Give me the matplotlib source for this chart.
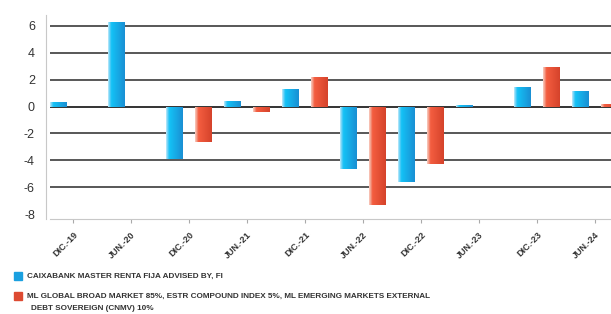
import numpy as np
import matplotlib
matplotlib.use('Agg')
import matplotlib.pyplot as plt
from matplotlib.colors import LinearSegmentedColormap
from matplotlib.patches import Rectangle

# datos
periodos = ['DIC.-19', 'JUN.-20', 'DIC.-20', 'JUN.-21', 'DIC.-21',
            'JUN.-22', 'DIC.-22', 'JUN.-23', 'DIC.-23', 'JUN.-24']
fondo = [0.35, 6.25, -3.9, 0.4, 1.27, -4.65, -5.6, 0.12, 1.44, 1.17]
indice = [0.0, 0.0, -2.63, -0.4, 2.2, -7.3, -4.28, -0.05, 2.96, 0.17]
nombre_fondo = 'CAIXABANK MASTER RENTA FIJA ADVISED BY, FI'
nombre_indice = ['ML GLOBAL BROAD MARKET 85%, ESTR COMPOUND INDEX 5%, ML EMERGING MARKETS EXTERNAL',
                 'DEBT SOVEREIGN (CNMV) 10%']

fuente = ['Liberation Sans Narrow', 'Liberation Sans', 'DejaVu Sans']

cmap_azul = LinearSegmentedColormap.from_list('azul', [(0, '#bfeafb'), (0.1, '#62cff6'), (0.2, '#14c2f6'), (1, '#1a8fd3')])
cmap_rojo = LinearSegmentedColormap.from_list('rojo', [(0, '#f9cbc0'), (0.1, '#f39a86'), (0.2, '#f45d40'), (1, '#d5432b')])

fig = plt.figure(figsize=(6.11, 3.14), dpi=100)
ax = fig.add_axes([46 / 611, 1 - 219 / 314, 1 - 46 / 611, (219 - 15) / 314])

x = np.arange(len(periodos))
ancho = 0.29
grad = np.linspace(0, 1, 64).reshape(1, -1)

def barras_degradado(pos, valores, cmap):
    bars = ax.bar(pos, valores, ancho, color='none', zorder=3)
    for b in bars:
        if b.get_height() == 0:
            continue
        x0, y0 = b.get_x(), b.get_y()
        x1, y1 = x0 + b.get_width(), y0 + b.get_height()
        im = ax.imshow(grad, cmap=cmap, aspect='auto', extent=(x0, x1, min(y0, y1), max(y0, y1)),
                       zorder=3, interpolation='bilinear')
        im.set_clip_path(b)

barras_degradado(x - 0.245, fondo, cmap_azul)
barras_degradado(x + 0.245, indice, cmap_rojo)

x_ini = -0.466 + 4 / 58
for g in [-6, -4, -2, 2, 4, 6]:
    ax.plot([x_ini, 9.3], [g, g], color='#4a4a4a', lw=1.3, zorder=1, solid_capstyle='butt')
ax.plot([x_ini, 9.3], [0, 0], color='#111111', lw=1.2, zorder=2, solid_capstyle='butt')

ax.set_xlim(-0.466, 9.276)
ax.set_ylim(-8.35, 6.8)
ax.set_yticks(range(-8, 7, 2))
ax.set_yticklabels([str(v) for v in range(-8, 7, 2)], fontsize=9, color='#333333', family=['Liberation Sans', 'DejaVu Sans'])
ax.tick_params(axis='y', length=0, pad=8)
ax.set_xticks(x)
ax.set_xticklabels(periodos, rotation=45, ha='right', rotation_mode='anchor', fontsize=6.5,
                   fontweight='bold', color='#333333', family=fuente)
ax.tick_params(axis='x', length=3, color='#aaaaaa', pad=5)

for s in ['top', 'right']:
    ax.spines[s].set_visible(False)
ax.spines['left'].set_color('#c8c8c8')
ax.spines['bottom'].set_color('#c8c8c8')
ax.spines['bottom'].set_bounds(x_ini, 9.3)

# leyenda
fs = 5.9
fig.patches.append(Rectangle((14 / 611, 1 - 280 / 314), 8 / 611, 8 / 314, transform=fig.transFigure,
                             color='#1aa0e0', figure=fig))
fig.text(27 / 611, 1 - 276 / 314, nombre_fondo, fontsize=fs, fontweight='bold', color='#333333',
         va='center', family=fuente)
fig.patches.append(Rectangle((14 / 611, 1 - 300 / 314), 8 / 611, 8 / 314, transform=fig.transFigure,
                             color='#dd4a32', figure=fig))
fig.text(27 / 611, 1 - 296 / 314, nombre_indice[0], fontsize=fs, fontweight='bold', color='#333333',
         va='center', family=fuente)
fig.text(31 / 611, 1 - 308 / 314, nombre_indice[1], fontsize=fs, fontweight='bold', color='#333333',
         va='center', family=fuente)

plt.savefig('out.png', dpi=100)
plt.close()
